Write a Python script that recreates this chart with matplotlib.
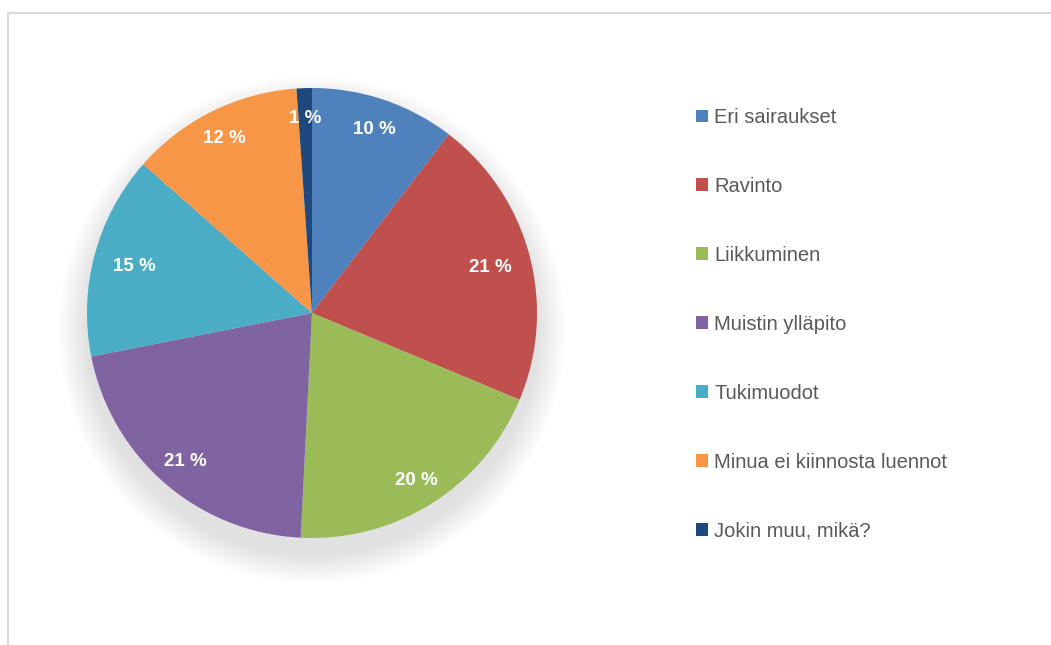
"""Pie chart: lecture topic interest (Finnish survey)"""

import numpy as np
import matplotlib.pyplot as plt
from matplotlib.lines import Line2D
from matplotlib.patches import Circle

plt.rcParams["font.family"] = ["Liberation Sans", "DejaVu Sans"]

# Data
categories = [
    "Eri sairaukset",
    "Ravinto",
    "Liikkuminen",
    "Muistin ylläpito",
    "Tukimuodot",
    "Minua ei kiinnosta luennot",
    "Jokin muu, mikä?",
]
shares = [10.4, 20.9, 19.5, 21.1, 14.6, 12.4, 1.1]
colors = ["#4F81BD", "#C0504D", "#9BBB59", "#8064A2", "#4BACC6", "#F79646", "#1F497D"]
# radial position of each percentage label (fraction of radius)
label_radius = [0.87, 0.82, 0.87, 0.86, 0.82, 0.875, 0.875]

W, H = 1051, 645
fig = plt.figure(figsize=(W / 100, H / 100), dpi=100)

# Chart area border (only top and left visible)
border = "#D9D9D9"
fig.add_artist(Line2D([8 / W, 1], [1 - 12.5 / H, 1 - 12.5 / H], color=border, lw=1.5))
fig.add_artist(Line2D([8 / W, 8 / W], [0, 1 - 12.5 / H], color=border, lw=1.5))

# Pie axes: centre (312, 313), radius 225 px
cx, cy, r = 312, 313, 225
ax = fig.add_axes([(cx - r) / W, (H - cy - r) / H, 2 * r / W, 2 * r / H])

# Soft shadow, mostly below the pie
n = 30
for i in range(n):
    rad = 1.13 - i * 0.13 / n
    ax.add_patch(Circle((0, -0.075), rad, color="black", alpha=0.005, lw=0, clip_on=False, zorder=0))

wedges, _, autotexts = ax.pie(
    shares,
    colors=colors,
    startangle=90,
    counterclock=False,
    autopct=lambda p: f"{p:.0f} %",
    pctdistance=0.86,
    wedgeprops=dict(linewidth=0),
    textprops=dict(color="white", fontsize=13.5, fontweight="bold"),
)
for w, t, d in zip(wedges, autotexts, label_radius):
    w.set_zorder(2)
    mid = np.deg2rad((w.theta1 + w.theta2) / 2)
    t.set_position((d * np.cos(mid), d * np.sin(mid)))
    t.set_va("center_baseline")
    t.set_zorder(3)
ax.set_xlim(-1, 1)
ax.set_ylim(-1, 1)
ax.set_aspect("equal")
ax.axis("off")

# Legend
fig.legend(
    wedges,
    categories,
    loc="upper left",
    bbox_to_anchor=(696 / W, 1 - 108 / H),
    frameon=False,
    fontsize=14.5,
    labelcolor="#595959",
    handlelength=0.6,
    handleheight=0.6,
    handletextpad=0.3,
    labelspacing=2.48,
    borderpad=0,
    borderaxespad=0,
)

plt.savefig("out.png", dpi=100)
plt.close()
